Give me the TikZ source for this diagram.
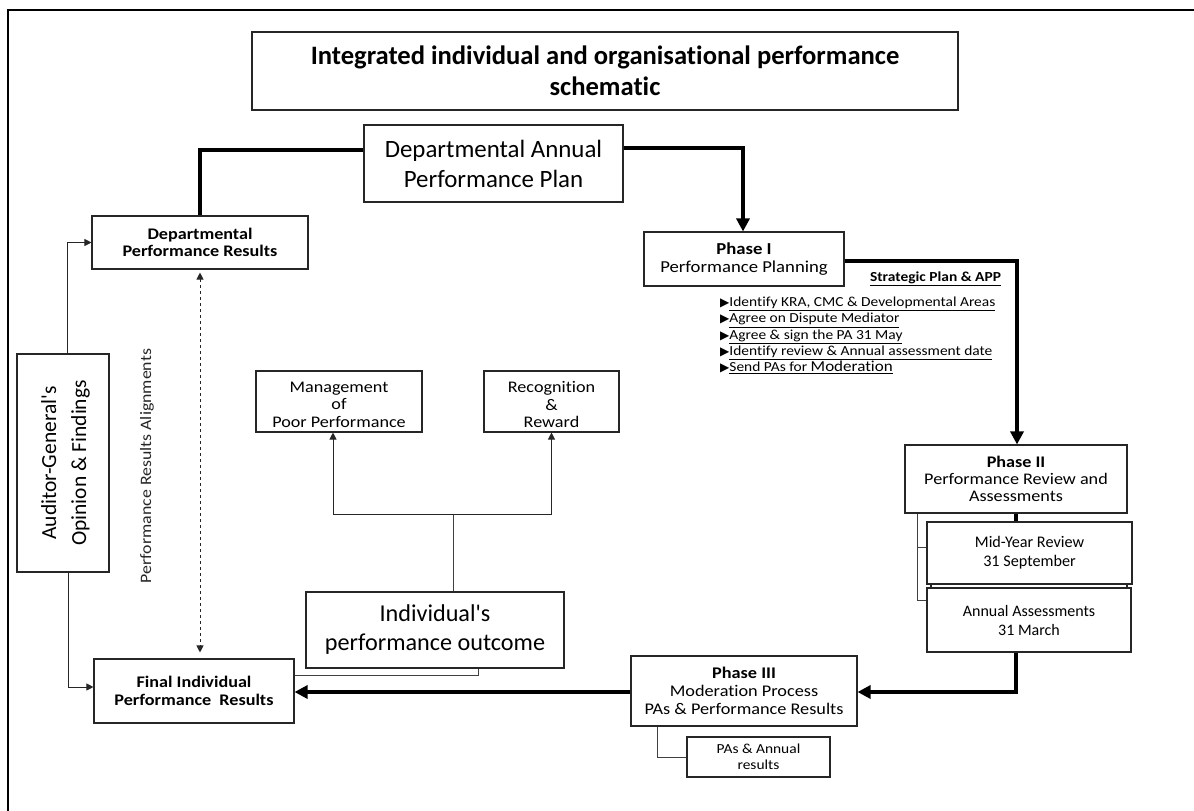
\documentclass[tikz,border=0pt]{standalone}
\usepackage{fontspec}
\setmainfont[Ligatures=NoCommon]{Carlito}
\newfontfamily\wf[FakeStretch=1.12,Ligatures=NoCommon]{Carlito}
\newfontfamily\symfont{DejaVu Sans}
\usetikzlibrary{arrows.meta,calc}
\tikzset{
  box/.style={draw=black!85,line width=1.1pt,fill=white,inner sep=0pt,align=center},
  thickline/.style={line width=4pt,draw=black},
  thickarrow/.style={line width=4pt,draw=black,-{Triangle[length=13pt,width=13pt]}},
  thinline/.style={line width=1pt,draw=black!75},
  thinarrow/.style={line width=1pt,draw=black!85,-{Triangle[length=7pt,width=7pt]}},
  plain/.style={inner sep=0pt,align=center},
}
\newcommand{\fs}[2]{\fontsize{#1}{#2}\selectfont}
\newcommand{\bul}{{\fontsize{12}{12}\symfont ▶}}
\begin{document}
\begin{tikzpicture}[x=1pt,y=-1pt]
\useasboundingbox (0,0) rectangle (1194,811);
% outer frame (top and left only)
\draw[line width=1.5pt] (1194,10) -- (8,10) -- (8,811);

% nodes
\node[box,minimum width=706pt,minimum height=78pt,font=\fs{26.6}{31}\bfseries] (title) at (605,71)
  {Integrated individual and organisational performance\\schematic};
\node[box,minimum width=259pt,minimum height=77pt,font=\fs{24.9}{30}] (dapp) at (493.5,163.5)
  {Departmental Annual\\Performance Plan};
\node[box,minimum width=216pt,minimum height=53pt,font=\wf\fs{16.2}{17}\bfseries] (dept) at (200,242.5)
  {Departmental\\Performance Results};
\node[box,minimum width=200pt,minimum height=54pt,font=\wf\fs{16.7}{18}] (ph1) at (744,259)
  {\textbf{Phase I}\\Performance Planning};
\node[box,minimum width=222pt,minimum height=68pt,font=\wf\fs{16.2}{17}] (ph2) at (1016,479)
  {\textbf{Phase II}\\Performance Review and\\Assessments};
\node[box,minimum width=196pt,minimum height=14pt] (back) at (1029,586) {};
\node[box,minimum width=205pt,minimum height=62pt,font=\fs{16.2}{19}] (mid) at (1029.5,553)
  {Mid-Year Review\\31 September};
\node[box,minimum width=204pt,minimum height=64pt,font=\fs{16}{19}] (ann) at (1029,620)
  {Annual Assessments\\31 March};
\node[box,minimum width=226pt,minimum height=70pt,font=\wf\fs{16.3}{18}] (ph3) at (744,691)
  {\textbf{Phase III}\\Moderation Process\\PAs \& Performance Results};
\node[box,minimum width=143pt,minimum height=40pt,font=\wf\fs{13.8}{16}] (pas) at (758.5,757)
  {PAs \& Annual\\results};
\node[box,minimum width=200pt,minimum height=64pt,font=\wf\fs{16.2}{18}\bfseries] (final) at (194,691)
  {Final Individual\\Performance\ \ Results};
\node[box,minimum width=258pt,minimum height=76pt,font=\fs{24.2}{29}] (indiv) at (435,630)
  {Individual\textquotesingle s\\performance outcome};
\node[box,minimum width=166pt,minimum height=61pt] (mgmt) at (339,401.5) {};
\node[plain,font=\wf\fs{16.2}{17.5}] (mgmtt) at (339,404.5)
  {Management\\of\\Poor Performance};
\node[box,minimum width=135pt,minimum height=61pt] (recog) at (551.5,401.5) {};
\node[plain,font=\wf\fs{16.2}{17.5}] (recogt) at (551.5,404.5)
  {Recognition\\\&\\Reward};
\node[box,minimum width=92pt,minimum height=218pt] (aud) at (63,463) {};
\node[plain,rotate=90,font=\fs{21.5}{30}] (audtxt) at (65.5,463)
  {Auditor-General\textquotesingle s\\Opinion \& Findings};
\node[plain,rotate=90,font=\wf\fs{15.9}{16},text=black!85] (align) at (147,466)
  {Performance Results Alignments};
\node[plain,anchor=base,font=\wf\fs{13.8}{16}\bfseries] (strat) at (935.5,281)
  {\underline{Strategic Plan \& APP}};
\node[plain,anchor=north west,align=left,font=\wf\fs{13.8}{16.2}] (bullets) at (720,297)
  {\bul\underline{Identify KRA, CMC \& Developmental Areas}\\
   \bul\underline{Agree on Dispute Mediator}\\
   \bul\underline{Agree \& sign the PA 31 May}\\
   \bul\underline{Identify review \& Annual assessment date}\\
   \bul\underline{Send PAs for {\fs{15.2}{17}Moderation}}};

% connectors
\draw[thickline] ([yshift=13.5pt]dapp.west) -| (dept.north);
\draw[thickarrow] ([yshift=15.5pt]dapp.east) -| ([xshift=-1pt]ph1.north);
\draw[thickarrow] ([yshift=-2pt]ph1.east) -| ([xshift=1pt]ph2.north);
\draw[thickline] (ph2.south) -- (ph2.south |- mid.north);
\draw[thinline] ([xshift=13pt]ph2.south west) |- ([yshift=20pt]ann.west);
\draw[thinline] ([xshift=13pt]ph2.south west) |- ([yshift=6pt]mid.west);
\draw[thickarrow] ([xshift=-13pt]ann.south) |- ([yshift=-1pt]ph3.east);
\draw[thickarrow] ([yshift=-1pt]ph3.west) -- ([yshift=-1pt]final.east);
\draw[thinline] ([xshift=27pt]ph3.south west) |- (pas.west);
\draw[thinline] ([yshift=16pt]final.east) -| ([xshift=43pt]indiv.south);
\draw[thinarrow] ([xshift=4pt]aud.north) |- (dept.west);
\draw[thinarrow] ([xshift=5pt]aud.south) |- ([yshift=4pt]final.west);
\draw[line width=1pt,draw=black!85,dashed,{Triangle[length=7pt,width=7pt]}-{Triangle[length=7pt,width=7pt]},shorten <=3pt,shorten >=6pt]
  (dept.south) -- (dept.south |- final.north);
\coordinate (br) at (453,514);
\draw[thinline] ([xshift=18pt]indiv.north) -- (br);
\draw[thinarrow] (br) -| ([xshift=-6pt]mgmt.south);
\draw[thinarrow] (br) -| (recog.south);
\end{tikzpicture}
\end{document}
